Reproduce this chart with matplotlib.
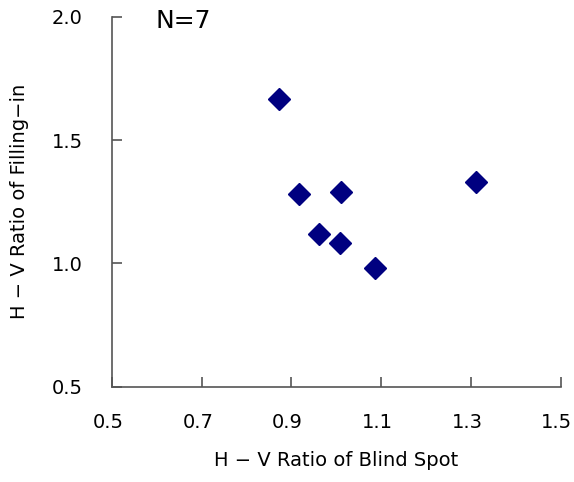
import matplotlib
matplotlib.use('Agg')
import matplotlib.pyplot as plt
import matplotlib.transforms as mtransforms

# H-V ratios
blind_spot = [0.873, 0.917, 1.011, 1.310, 0.962, 1.007, 1.086]
filling_in = [1.665, 1.282, 1.290, 1.330, 1.121, 1.083, 0.982]
x_ticks = [0.5, 0.7, 0.9, 1.1, 1.3, 1.5]
y_ticks = [0.5, 1.0, 1.5, 2.0]

plt.rcParams['font.family'] = ['DejaVu Sans']

fig = plt.figure(figsize=(5.74, 4.82), dpi=100)
ax = fig.add_axes([0.195, 0.198, 0.782, 0.767])

ax.plot(blind_spot, filling_in, 'D', color='#000080', markersize=11.5, linestyle='none')

ax.set_xlim(0.5, 1.5)
ax.set_ylim(0.5, 2.0)
ax.set_xticks(x_ticks)
ax.set_xticklabels(['%.1f' % v for v in x_ticks])
ax.set_yticks(y_ticks)
ax.set_yticklabels(['%.1f' % v for v in y_ticks])

for s in ['top', 'right']:
    ax.spines[s].set_visible(False)
for s in ['left', 'bottom']:
    ax.spines[s].set_color('#555555')
    ax.spines[s].set_linewidth(1.2)
ax.tick_params(direction='in', length=7, width=1.2, color='#555555', labelsize=14)
ax.tick_params(axis='x', pad=19)
ax.tick_params(axis='y', pad=21)

# x tick labels sit a little left of their ticks in the original
shift = mtransforms.ScaledTranslation(-4 / 100, 0, fig.dpi_scale_trans)
for lab in ax.get_xticklabels():
    lab.set_transform(lab.get_transform() + shift)

ax.set_xlabel('H \u2212 V Ratio of Blind Spot', fontsize=14, labelpad=14)
ax.set_ylabel('H \u2212 V Ratio of Filling\u2212in', fontsize=14, labelpad=16)
ax.text(0.596, 1.985, 'N=7', fontsize=18, va='center', ha='left')

fig.savefig('out.png', dpi=100)
